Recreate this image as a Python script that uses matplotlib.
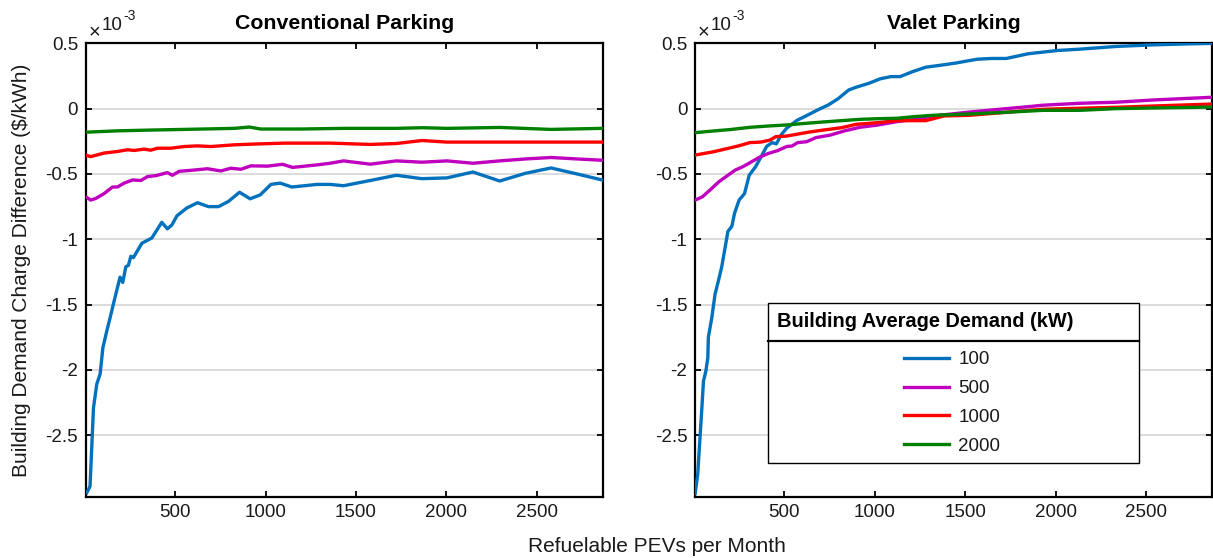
import matplotlib
matplotlib.use("Agg")
import matplotlib.pyplot as plt
from matplotlib.patches import Rectangle
from matplotlib.lines import Line2D

plt.rcParams['font.family'] = ['Liberation Sans', 'DejaVu Sans']
plt.rcParams['axes.unicode_minus'] = False

# ---- data (values in units of 1e-3 $/kWh) ----
demand_levels = ["100", "500", "1000", "2000"]
series_colors = ["#0072BD", "#BF00BF", "#FF0000", "#008000"]

conv_x_100 = [11, 29, 48, 66, 85, 100, 122, 140, 168, 195, 210, 227, 241, 255, 269, 316, 371, 426,
              457, 482, 510, 565, 624, 684, 740, 795, 856, 915, 971, 1030, 1081, 1146, 1285, 1358,
              1432, 1580, 1724, 1866, 2004, 2148, 2296, 2438, 2580, 2724, 2863]
conv_y_100 = [-2.94, -2.89, -2.29, -2.11, -2.03, -1.83, -1.70, -1.60, -1.44, -1.29, -1.33, -1.21,
              -1.20, -1.13, -1.14, -1.03, -0.99, -0.87, -0.92, -0.89, -0.82, -0.76, -0.72, -0.75,
              -0.75, -0.71, -0.64, -0.69, -0.66, -0.58, -0.57, -0.60, -0.58, -0.58, -0.59, -0.55,
              -0.51, -0.536, -0.53, -0.485, -0.554, -0.495, -0.454, -0.50, -0.546]

conv_x_500 = [11, 33, 61, 107, 153, 180, 218, 264, 310, 347, 393, 457, 485, 522, 605, 679, 753, 808,
              864, 919, 1012, 1094, 1150, 1288, 1358, 1432, 1580, 1724, 1866, 2004, 2148, 2296,
              2438, 2580, 2724, 2863]
conv_y_500 = [-0.68, -0.70, -0.687, -0.65, -0.60, -0.60, -0.57, -0.546, -0.55, -0.52, -0.513, -0.49,
              -0.51, -0.48, -0.47, -0.46, -0.477, -0.456, -0.464, -0.438, -0.44, -0.426, -0.45,
              -0.43, -0.418, -0.40, -0.425, -0.40, -0.41, -0.40, -0.418, -0.40, -0.385, -0.374,
              -0.385, -0.395]

conv_x_1000 = [14, 33, 107, 180, 236, 273, 328, 365, 402, 476, 550, 624, 698, 827, 919, 1104, 1358,
               1580, 1724, 1866, 2004, 2300, 2600, 2863]
conv_y_1000 = [-0.36, -0.367, -0.34, -0.328, -0.315, -0.32, -0.31, -0.318, -0.303, -0.303, -0.29,
               -0.285, -0.29, -0.277, -0.272, -0.264, -0.264, -0.274, -0.267, -0.244, -0.256,
               -0.256, -0.256, -0.256]

conv_x_2000 = [14, 180, 365, 550, 827, 910, 974, 1196, 1436, 1724, 1866, 2004, 2296, 2580, 2863]
conv_y_2000 = [-0.18, -0.17, -0.164, -0.159, -0.151, -0.141, -0.156, -0.156, -0.151, -0.151, -0.146,
               -0.151, -0.144, -0.159, -0.151]

valet_x_100 = [6, 20, 29, 43, 52, 65, 76, 79, 98, 116, 135, 153, 172, 187, 209, 224, 249, 279, 305,
               340, 370, 401, 431, 455, 482, 512, 569, 613, 684, 745, 796, 856, 897, 968, 1029, 1089,
               1140, 1211, 1282, 1363, 1444, 1566, 1647, 1728, 1849, 2011, 2133, 2335, 2538, 2741, 2866]
valet_y_100 = [-2.944, -2.80, -2.60, -2.29, -2.085, -2.01, -1.905, -1.75, -1.60, -1.42, -1.315,
               -1.21, -1.06, -0.94, -0.90, -0.80, -0.70, -0.65, -0.51, -0.445, -0.37, -0.29, -0.26,
               -0.27, -0.20, -0.15, -0.09, -0.06, -0.01, 0.03, 0.075, 0.143, 0.164, 0.194, 0.228,
               0.245, 0.245, 0.284, 0.317, 0.332, 0.348, 0.378, 0.384, 0.384, 0.42, 0.445, 0.455,
               0.476, 0.488, 0.496, 0.499]

valet_x_500 = [6, 46, 87, 137, 188, 228, 269, 309, 360, 411, 461, 512, 542, 573, 623, 674, 755, 836,
               917, 1019, 1120, 1221, 1323, 1525, 1728, 1849, 1930, 2133, 2335, 2538, 2866]
valet_y_500 = [-0.70, -0.675, -0.624, -0.56, -0.509, -0.47, -0.445, -0.414, -0.373, -0.343, -0.322,
               -0.29, -0.286, -0.26, -0.253, -0.222, -0.202, -0.169, -0.143, -0.125, -0.10, -0.082,
               -0.056, -0.026, 0.0, 0.015, 0.026, 0.041, 0.049, 0.066, 0.087]

valet_x_1000 = [6, 36, 107, 188, 249, 309, 370, 421, 451, 512, 553, 634, 715, 816, 897, 1019, 1120,
                1282, 1383, 1525, 1728, 1930, 2133, 2335, 2538, 2866]
valet_y_1000 = [-0.355, -0.348, -0.33, -0.304, -0.284, -0.26, -0.256, -0.24, -0.215, -0.21, -0.20,
                -0.18, -0.164, -0.146, -0.12, -0.107, -0.092, -0.092, -0.056, -0.051, -0.028,
                -0.005, 0.003, 0.01, 0.02, 0.035]

valet_x_2000 = [6, 107, 208, 309, 411, 512, 613, 715, 816, 917, 1019, 1120, 1221, 1323, 1525, 1728,
                1930, 2133, 2335, 2538, 2866]
valet_y_2000 = [-0.184, -0.171, -0.159, -0.143, -0.133, -0.125, -0.113, -0.102, -0.092, -0.082,
                -0.077, -0.074, -0.061, -0.051, -0.041, -0.028, -0.013, -0.013, 0.0, 0.005, 0.012]

x_ticks = [500, 1000, 1500, 2000, 2500]
y_ticks = [0.5, 0, -0.5, -1, -1.5, -2, -2.5]
y_tick_labels = ["0.5", "0", "-0.5", "-1", "-1.5", "-2", "-2.5"]
panel_titles = ["Conventional Parking", "Valet Parking"]
x_label = "Refuelable PEVs per Month"
y_label = "Building Demand Charge Difference ($/kWh)"
legend_title = "Building Average Demand (kW)"

conv_series = [(conv_x_100, conv_y_100), (conv_x_500, conv_y_500),
               (conv_x_1000, conv_y_1000), (conv_x_2000, conv_y_2000)]
valet_series = [(valet_x_100, valet_y_100), (valet_x_500, valet_y_500),
                (valet_x_1000, valet_y_1000), (valet_x_2000, valet_y_2000)]

# ---- figure ----
W, H = 1213, 558
fig = plt.figure(figsize=(W / 100, H / 100), dpi=100)

def px_axes(l, t, r, b):
    return fig.add_axes([l / W, 1 - b / H, (r - l) / W, (b - t) / H])

ax1 = px_axes(85.7, 43.3, 602.7, 496.7)
ax2 = px_axes(695, 43.3, 1212, 496.7)

TICK_FS = 13.5
TXT = '#1a1a1a'

for ax, series, title in [(ax1, conv_series, panel_titles[0]), (ax2, valet_series, panel_titles[1])]:
    for (xs, ys), c, lab in zip(series, series_colors, demand_levels):
        ax.plot(xs, ys, color=c, lw=2.4, label=lab, solid_joinstyle='round', zorder=3)
    ax.set_xlim(5, 2866)
    ax.set_ylim(-2.97, 0.5)
    ax.set_xticks(x_ticks)
    ax.set_xticklabels([str(t) for t in x_ticks])
    ax.set_yticks(y_ticks)
    ax.set_yticklabels(y_tick_labels)
    ax.yaxis.grid(True, color='#d9d9d9', lw=1.3, zorder=0)
    ax.set_axisbelow(True)
    ax.tick_params(direction='in', length=4, width=1.3, top=True, right=True,
                   labelsize=TICK_FS, colors='black', labelcolor=TXT)
    ax.tick_params(axis='y', pad=5.5)
    ax.tick_params(axis='x', pad=5)
    for s in ax.spines.values():
        s.set_linewidth(1.6)
    ax.set_title(title, fontsize=15.3, fontweight='bold', pad=10.5)
    # exponent marker (x10^-3)
    ax.annotate('×', xy=(0, 1), xycoords='axes fraction', xytext=(6.0, 7.8),
                textcoords='offset points', ha='center', va='center', fontsize=14.5,
                color=TXT)
    ax.annotate('10', xy=(0, 1), xycoords='axes fraction', xytext=(11.2, 9.6),
                textcoords='offset points', ha='left', va='baseline', fontsize=TICK_FS, color=TXT)
    ax.annotate('-3', xy=(0, 1), xycoords='axes fraction', xytext=(27.0, 16.8),
                textcoords='offset points', ha='left', va='baseline', fontsize=10, color=TXT)

ax1.set_ylabel(y_label, fontsize=15, color=TXT)
ax1.yaxis.set_label_coords(-0.106, 0.5)
fig.text(657 / W, 1 - 552 / H, x_label, ha='center', va='baseline', fontsize=15, color=TXT)

# ---- legend on right panel ----
def ax_frac(px_x, px_y):
    return ((px_x - 695) / 517, (496.7 - px_y) / 453.4)

bl = ax_frac(768, 463)
tr = ax_frac(1139, 303)
box = Rectangle(bl, tr[0] - bl[0], tr[1] - bl[1], transform=ax2.transAxes,
                facecolor='white', edgecolor='black', lw=1.0, zorder=5)
ax2.add_patch(box)
sep_y = ax_frac(0, 341)[1]
ax2.add_line(Line2D([bl[0], tr[0]], [sep_y, sep_y], transform=ax2.transAxes,
                    color='black', lw=1.6, zorder=6))
tx, ty = ax_frac(777, 322)
ax2.text(tx, ty, legend_title, transform=ax2.transAxes, ha='left', va='center',
         fontsize=14.4, fontweight='bold', zorder=7)
handles = ax2.get_lines()[:4]
cx, cy = ax_frac(952, 403)
leg = ax2.legend(handles, demand_levels, loc='center', bbox_to_anchor=(cx, cy),
                 frameon=False, fontsize=TICK_FS, handlelength=2.4, handletextpad=0.5,
                 labelspacing=0.62, borderpad=0, borderaxespad=0)
leg.set_zorder(8)
for t in leg.get_texts():
    t.set_color(TXT)

fig.savefig('out.png', dpi=100)
